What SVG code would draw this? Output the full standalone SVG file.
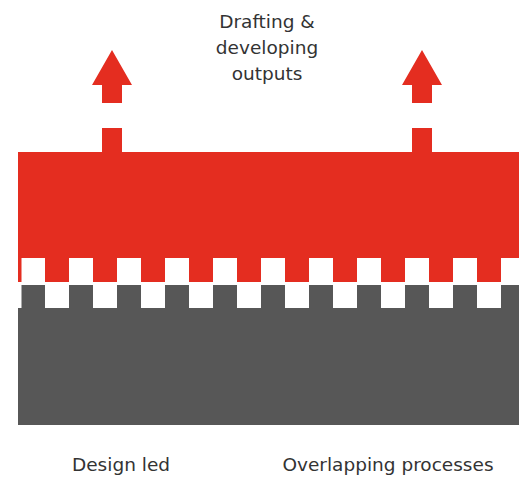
<svg xmlns="http://www.w3.org/2000/svg" width="527" height="477" viewBox="0 0 527 477">
<defs>
<style>
.red{fill:#E42D20}
.gray{fill:#575757}
.lbl{font-family:"DejaVu Sans","Liberation Sans",sans-serif;font-size:18.5px;fill:#333333;text-anchor:middle}
</style>
<symbol id="tooth"><rect width="24" height="24"/></symbol>
</defs>
<rect width="527" height="477" fill="#ffffff"/>
<g id="red-block" class="red">
<rect x="18" y="152" width="501" height="106"/>
<rect x="18" y="257" width="3.5" height="25"/>
<rect x="45" y="257" width="24" height="25"/>
<rect x="93" y="257" width="24" height="25"/>
<rect x="141" y="257" width="24" height="25"/>
<rect x="189" y="257" width="24" height="25"/>
<rect x="237" y="257" width="24" height="25"/>
<rect x="285" y="257" width="24" height="25"/>
<rect x="333" y="257" width="24" height="25"/>
<rect x="381" y="257" width="24" height="25"/>
<rect x="429" y="257" width="24" height="25"/>
<rect x="477" y="257" width="24" height="25"/>
<rect x="102" y="128" width="20" height="25"/>
<rect x="412" y="128" width="20" height="25"/>
</g>
<g id="gray-block" class="gray">
<rect x="18" y="308" width="501" height="117"/>
<rect x="21.5" y="285" width="23.5" height="24"/>
<rect x="69" y="285" width="24" height="24"/>
<rect x="117" y="285" width="24" height="24"/>
<rect x="165" y="285" width="24" height="24"/>
<rect x="213" y="285" width="24" height="24"/>
<rect x="261" y="285" width="24" height="24"/>
<rect x="309" y="285" width="24" height="24"/>
<rect x="357" y="285" width="24" height="24"/>
<rect x="405" y="285" width="24" height="24"/>
<rect x="453" y="285" width="24" height="24"/>
<rect x="501" y="285" width="18" height="24"/>
</g>
<g id="connectors" class="red">
<path d="M112 50 L132 85 L122 85 L122 103 L102 103 L102 85 L92 85 Z"/>
<path d="M422 50 L442 85 L432 85 L432 103 L412 103 L412 85 L402 85 Z"/>
</g>
<g id="title">
<text class="lbl" x="267" y="28">Drafting &amp;</text>
<text class="lbl" x="267" y="54">developing</text>
<text class="lbl" x="267" y="80">outputs</text>
</g>
<g id="label-design-led"><text class="lbl" x="121" y="471">Design led</text></g>
<g id="label-overlapping"><text class="lbl" x="388" y="471">Overlapping processes</text></g>
</svg>
